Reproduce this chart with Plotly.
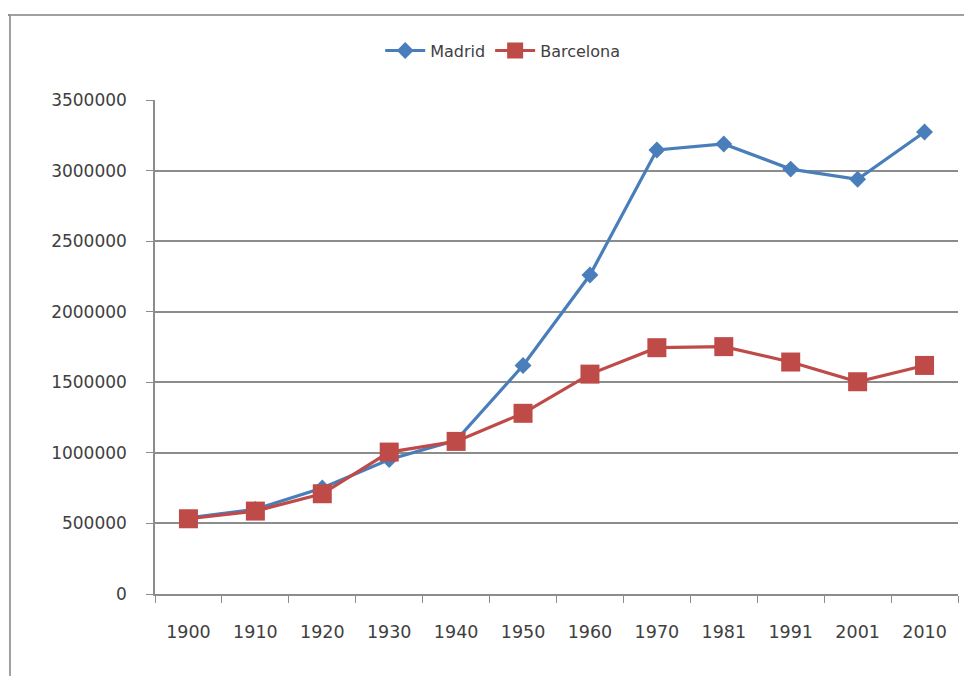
import plotly.graph_objects as go

years = ["1900", "1910", "1920", "1930", "1940", "1950", "1960", "1970", "1981", "1991", "2001", "2010"]
madrid = [539835, 599807, 750896, 952832, 1088647, 1618435, 2259931, 3146071, 3188297, 3010492, 2938723, 3273049]
barcelona = [533000, 587411, 710335, 1005565, 1081175, 1280179, 1557863, 1745142, 1752627, 1643542, 1503884, 1619337]

font_family = "DejaVu Sans"
text_color = "#404040"
grid_color = "#8c8c8c"

fig = go.Figure()
fig.add_trace(go.Scatter(
    x=years, y=madrid, name="Madrid", mode="lines+markers",
    line=dict(color="#4a7ebb", width=3.2),
    marker=dict(symbol="diamond", size=13, color="#4a7ebb"),
))
fig.add_trace(go.Scatter(
    x=years, y=barcelona, name="Barcelona", mode="lines+markers",
    line=dict(color="#be4b48", width=3.2),
    marker=dict(symbol="square", size=19, color="#be4b48"),
))

fig.update_layout(
    width=964, height=668,
    margin=dict(l=147, r=14, t=92, b=82),
    paper_bgcolor="white", plot_bgcolor="white",
    font=dict(family=font_family, size=17, color=text_color),
    showlegend=True,
    legend=dict(orientation="h", x=0.433, xanchor="center", y=1.10, yanchor="middle",
                font=dict(size=16, color=text_color), itemwidth=40, tracegroupgap=0),
    shapes=[
        dict(type="line", xref="paper", yref="paper", x0=-0.1806, x1=1.02, y0=1.172, y1=1.172,
             line=dict(color="#a0a0a0", width=2)),
        dict(type="line", xref="paper", yref="paper", x0=-0.1806, x1=-0.1806, y0=1.172, y1=-0.166,
             line=dict(color="#a0a0a0", width=2)),
        dict(type="line", xref="paper", yref="paper", x0=-0.1831, x1=-0.1806, y0=1.172, y1=1.172,
             line=dict(color="#707070", width=1.5)),
    ],
)

fig.update_xaxes(
    type="category", range=[-0.5, 11.5],
    showline=True, linecolor=grid_color, linewidth=1.5,
    ticks="outside", tickson="boundaries", ticklen=7, tickcolor=grid_color, tickwidth=1.2,
    showgrid=False, ticklabelstandoff=21,
    tickfont=dict(size=17.5, color=text_color),
)
fig.update_yaxes(
    range=[0, 3500000], dtick=500000, tick0=0, tickformat="d",
    showline=True, linecolor=grid_color, linewidth=1.5,
    ticks="outside", ticklen=7, tickcolor=grid_color, tickwidth=1.2,
    showgrid=True, gridcolor=grid_color, gridwidth=1.5,
    zeroline=False, ticklabelstandoff=16,
    tickfont=dict(size=17, color=text_color),
)

fig.write_html("out.html")
